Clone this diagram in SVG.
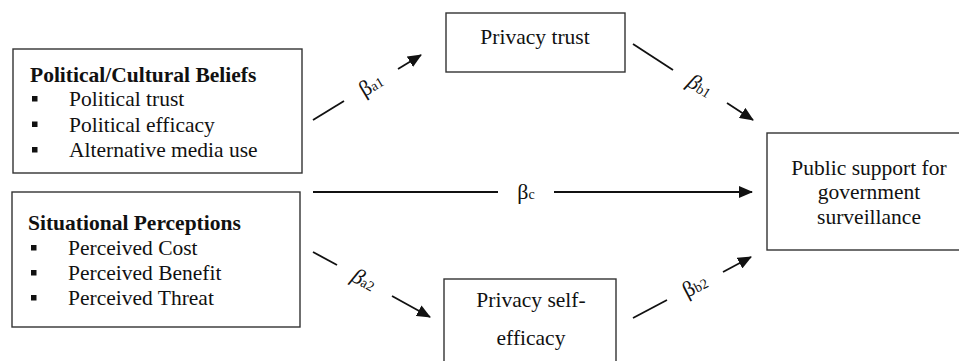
<svg xmlns="http://www.w3.org/2000/svg" width="959" height="361" viewBox="0 0 959 361">
  <defs>
    <marker id="arrow" viewBox="0 0 14 12" refX="13" refY="6" markerWidth="14" markerHeight="12" markerUnits="userSpaceOnUse" orient="auto">
      <path d="M0,0 L14,6 L0,12 Z" fill="#111"/>
    </marker>
    <style>
      .box { fill: #fff; stroke: #333; stroke-width: 1.4; }
      .txt { font-size: 21.5px; fill: #111; }
      .title { font-weight: bold; }
      .mid { text-anchor: middle; }
      .bullet { fill: #111; }
      .line { stroke: #111; stroke-width: 1.8; fill: none; }
      .head { stroke: #111; stroke-width: 1.8; fill: none; marker-end: url(#arrow); }
      .beta { font-size: 22px; fill: #111; text-anchor: middle; }
      .sub { font-size: 14px; }
      .it { font-style: italic; }
    </style>
  </defs>
  <rect width="959" height="361" fill="#fff"/>

  <g font-family="'Liberation Serif', serif">
  <g id="political-cultural-beliefs">
    <rect class="box" x="13" y="49" width="289" height="124"/>
    <text class="txt title" x="30" y="82">Political/Cultural Beliefs</text>
    <rect class="bullet" x="32" y="96" width="5.5" height="5.5"/>
    <text class="txt" x="69" y="106">Political trust</text>
    <rect class="bullet" x="32" y="121.5" width="5.5" height="5.5"/>
    <text class="txt" x="69" y="131.5">Political efficacy</text>
    <rect class="bullet" x="32" y="147" width="5.5" height="5.5"/>
    <text class="txt" x="69" y="157">Alternative media use</text>
  </g>

  <g id="situational-perceptions">
    <rect class="box" x="12" y="192" width="288" height="135"/>
    <text class="txt title" x="28" y="230">Situational Perceptions</text>
    <rect class="bullet" x="31" y="245" width="5.5" height="5.5"/>
    <text class="txt" x="68" y="255">Perceived Cost</text>
    <rect class="bullet" x="31" y="270" width="5.5" height="5.5"/>
    <text class="txt" x="68" y="280">Perceived Benefit</text>
    <rect class="bullet" x="31" y="295" width="5.5" height="5.5"/>
    <text class="txt" x="68" y="305">Perceived Threat</text>
  </g>

  <g id="privacy-trust">
    <rect class="box" x="446" y="13" width="179" height="59"/>
    <text class="txt mid" x="535" y="44">Privacy trust</text>
  </g>

  <g id="privacy-self-efficacy">
    <rect class="box" x="444" y="279" width="172" height="90"/>
    <text class="txt mid" x="531" y="307">Privacy self-</text>
    <text class="txt mid" x="531" y="345">efficacy</text>
  </g>

  <g id="public-support">
    <rect class="box" x="767" y="133" width="200" height="117"/>
    <text class="txt mid" x="869" y="175">Public support for</text>
    <text class="txt mid" x="869" y="199">government</text>
    <text class="txt mid" x="869" y="224">surveillance</text>
  </g>

  <g id="connectors">
    <!-- beliefs -> privacy trust -->
    <line class="line" x1="313" y1="120" x2="344" y2="101"/>
    <line class="head" x1="398" y1="69" x2="421" y2="55"/>
    <!-- privacy trust -> support -->
    <line class="line" x1="633" y1="44" x2="673" y2="70"/>
    <line class="head" x1="727" y1="103" x2="753" y2="120"/>
    <!-- direct path -->
    <line class="line" x1="313" y1="192" x2="498" y2="192"/>
    <line class="head" x1="554" y1="192" x2="752" y2="192"/>
    <!-- perceptions -> self-efficacy -->
    <line class="line" x1="313" y1="252" x2="337" y2="265"/>
    <line class="head" x1="392" y1="296" x2="430" y2="317"/>
    <!-- self-efficacy -> support -->
    <line class="line" x1="633" y1="318" x2="667" y2="300"/>
    <line class="head" x1="723" y1="272" x2="751" y2="257"/>
  </g>

  <g id="path-labels">
    <text class="beta" transform="translate(371,85) rotate(-31)" y="7">β<tspan class="sub">a1</tspan></text>
    <text class="beta" transform="translate(700,86) rotate(32)" y="7"><tspan class="it">β</tspan><tspan class="sub">b1</tspan></text>
    <text class="beta" x="526" y="199">β<tspan class="sub">c</tspan></text>
    <text class="beta" transform="translate(364,280) rotate(29)" y="7"><tspan class="it">β</tspan><tspan class="sub">a2</tspan></text>
    <text class="beta" transform="translate(695,286) rotate(-27.5)" y="7">β<tspan class="sub">b2</tspan></text>
  </g>
  </g>
</svg>
